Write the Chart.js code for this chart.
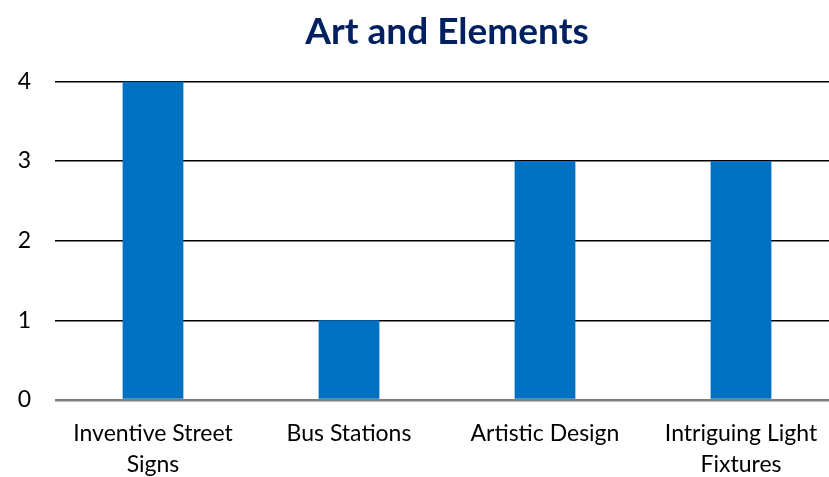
<!DOCTYPE html>
<html>
<head>
<meta charset="utf-8">
<script src="https://cdn.jsdelivr.net/npm/chart.js@4"></script>
<style>
  html, body { margin: 0; padding: 0; background: #fff; overflow: hidden; }
  #chart1 { display: block; }
</style>
</head>
<body>
<!-- canvas a bit wider than the window: the plot area runs past the right edge, like the original -->
<canvas id="chart1" width="839" height="477"></canvas>
<script>
// Data
const categories = [
  ["Inventive Street", "Signs"],
  "Bus Stations",
  "Artistic Design",
  ["Intriguing Light", "Fixtures"]
];
const counts = [4, 1, 3, 3];
const yTicks = [0, 1, 2, 3, 4];

const FONT = "Lato, 'Open Sans', sans-serif";

const ctx = document.getElementById('chart1').getContext('2d');
window.chart = new Chart(ctx, {
  type: 'bar',
  data: {
    labels: categories,
    datasets: [{
      label: 'Count',
      data: counts,
      backgroundColor: '#0070C0',
      borderWidth: 0,
      barPercentage: 0.62,
      categoryPercentage: 0.5
    }]
  },
  options: {
    responsive: false,
    animation: false,
    layout: { padding: { left: 0, right: 0, top: 4, bottom: 0 } },
    plugins: {
      legend: { display: false },
      tooltip: { enabled: false },
      title: {
        display: true,
        fullSize: false,
        text: 'Art and Elements',
        color: '#002060',
        font: { family: FONT, size: 37, weight: 'bold' },
        padding: { top: 6, bottom: 27 }
      }
    },
    scales: {
      x: {
        afterFit: (axis) => { axis.height = 77; },
        grid: { display: false },
        border: { display: false },
        ticks: {
          color: '#000',
          font: { family: FONT, size: 23, lineHeight: 1.35 },
          maxRotation: 0,
          autoSkip: false,
          padding: 10
        }
      },
      y: {
        min: 0,
        max: 4,
        afterBuildTicks: (axis) => { axis.ticks = yTicks.map(v => ({ value: v })); },
        afterFit: (axis) => { axis.width = 55; },
        border: { display: false },
        grid: {
          drawTicks: false,
          color: (c) => c.tick && c.tick.value === 0 ? '#7f7f7f' : '#000',
          lineWidth: (c) => c.tick && c.tick.value === 0 ? 2.5 : 1.5
        },
        ticks: {
          color: '#000',
          font: { family: FONT, size: 23 },
          padding: 24
        }
      }
    }
  }
});
</script>
</body>
</html>
